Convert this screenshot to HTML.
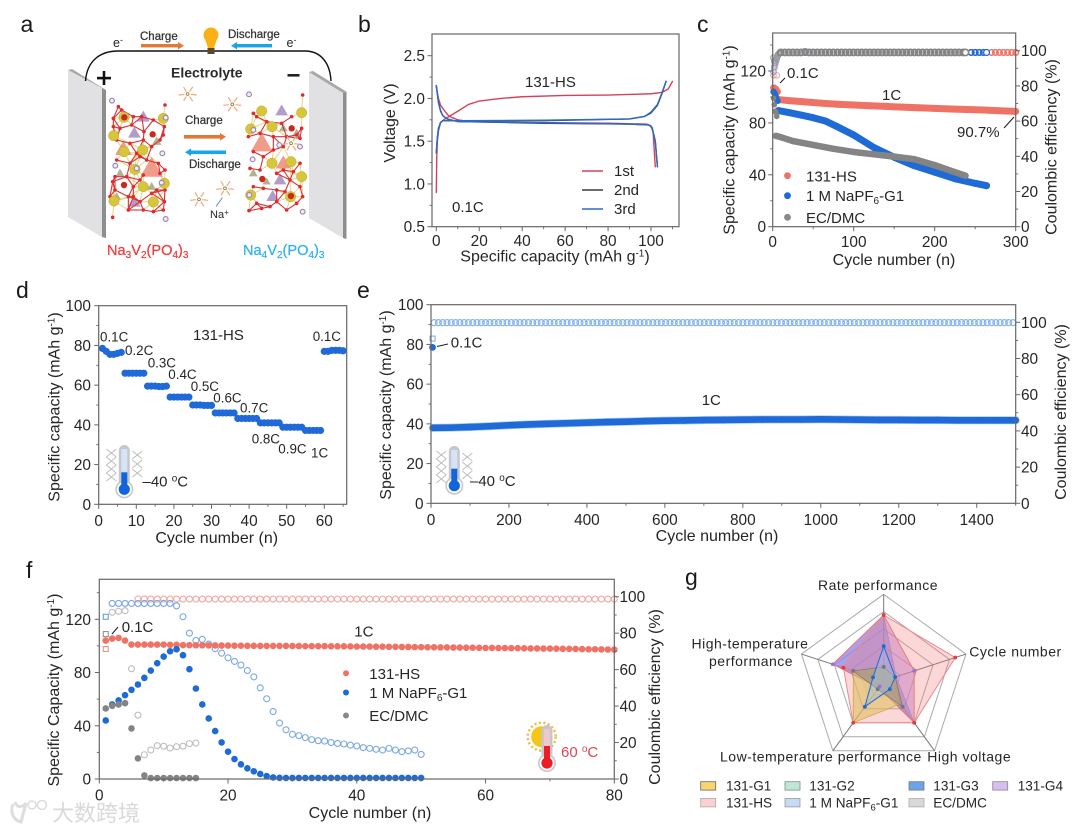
<!DOCTYPE html>
<html lang="en">
<head>
<meta charset="utf-8">
<title>Battery electrolyte performance figure</title>
<style>
html,body{margin:0;padding:0;background:#fff;}
#figure{display:block;width:1080px;height:832px;filter:blur(0.35px);}
text{font-family:"Liberation Sans","Noto Sans CJK SC",sans-serif;fill:#262626;}
.tick{font-size:15.4px;}
.title{font-size:16px;}
.letter{font-size:23px;fill:#1a1a1a;}
.note{font-size:15px;}
.rate{font-size:13.4px;}
.bold{font-size:11.5px;fill:#333;stroke:#333;stroke-width:.25px;}
.radar{font-size:14px;letter-spacing:.5px;}
.swatch-label{font-size:13.6px;}
</style>
</head>
<body>
<svg id="figure" xmlns="http://www.w3.org/2000/svg" width="1080" height="832" viewBox="0 0 1080 832">
<rect width="1080" height="832" fill="#fff"/>

<!-- Panel a -->
<g id="panel-a">
  <text class="letter" x="20.5" y="32">a</text>
  <polygon points="68,70 102,88 102,237 68,217" fill="#e1e1e3"/>
  <polygon points="68,70 72,69 106,90 102,88" fill="#a8a8a8"/>
  <polygon points="102,88 106,90 106,238 102,237" fill="#8e8e8e"/>
  <polygon points="309,72 343,93 343,238 309,218" fill="#e1e1e3"/>
  <polygon points="309,72 313,71 347,92 343,93" fill="#a8a8a8"/>
  <polygon points="343,93 346.5,92 346.5,239 343,238" fill="#8e8e8e"/>
  <path d="M85.5 81 C87 61,100 51,118 51 L305 51 C320 51,330 62,331 81" fill="none" stroke="#111" stroke-width="1.4"/>
  <circle cx="211" cy="35" r="7.5" fill="#fbb116"/>
  <polygon points="205,39 217,39 214,48 208,48" fill="#fbb116"/>
  <rect x="207.5" y="48" width="7" height="6" fill="#5a4a2a"/>
  <text x="113" y="47" font-size="12.5">e<tspan dy="-4" font-size="9">-</tspan></text>
  <text x="286.5" y="47" font-size="12.5">e<tspan dy="-4" font-size="9">-</tspan></text>
  <text class="bold" x="140" y="40">Charge</text>
  <text class="bold" x="228" y="38">Discharge</text>
  <rect x="141" y="44" width="38" height="3.4" fill="#e27a35"/>
  <polygon points="178,42 184,45.7 178,49.4" fill="#e27a35"/>
  <rect x="236" y="44" width="36" height="3.4" fill="#19a5ea"/>
  <polygon points="237,42 231,45.7 237,49.4" fill="#19a5ea"/>
  <text x="171" y="77.5" font-size="14" font-weight="bold" style="fill:#2a2a2a">Electrolyte</text>
  <rect x="97" y="76.8" width="14" height="2.6" fill="#111"/>
  <rect x="102.7" y="71" width="2.6" height="14" fill="#111"/>
  <rect x="287.5" y="74" width="12" height="2.6" fill="#222"/>
  <text class="bold" x="185" y="124">Charge</text>
  <text class="bold" x="189" y="168">Discharge</text>
  <rect x="184" y="135" width="37" height="3.6" fill="#e27a35"/>
  <polygon points="220,133 226,136.8 220,140.6" fill="#e27a35"/>
  <rect x="190" y="150.5" width="36" height="3.6" fill="#19a5ea"/>
  <polygon points="191,148.5 185,152.3 191,156" fill="#19a5ea"/>
  <line x1="216" y1="206.5" x2="222.5" y2="197.5" stroke="#4a78b8" stroke-width="0.8"/>
  <text x="210" y="218" font-size="11">Na<tspan dy="-3" font-size="8">+</tspan></text>
  <text x="107" y="255" font-size="14.6" style="fill:#ee3b3f;stroke:#ee3b3f;stroke-width:.25px">Na<tspan dy="3" font-size="10">3</tspan><tspan dy="-3">V</tspan><tspan dy="3" font-size="10">2</tspan><tspan dy="-3">(PO</tspan><tspan dy="3" font-size="10">4</tspan><tspan dy="-3">)</tspan><tspan dy="3" font-size="10">3</tspan></text>
  <text x="243" y="255" font-size="14.6" style="fill:#2eb2ea;stroke:#2eb2ea;stroke-width:.25px">Na<tspan dy="3" font-size="10">4</tspan><tspan dy="-3">V</tspan><tspan dy="3" font-size="10">2</tspan><tspan dy="-3">(PO</tspan><tspan dy="3" font-size="10">4</tspan><tspan dy="-3">)</tspan><tspan dy="3" font-size="10">3</tspan></text>
  <g id="crystal-layer"></g>
</g>

<!-- Panel b -->
<g id="panel-b">
  <text class="letter" x="358" y="32">b</text>
  <text class="title" transform="translate(395,123) rotate(-90)" text-anchor="middle">Voltage (V)</text>
  <text class="title" x="555" y="261.5" text-anchor="middle">Specific capacity (mAh g<tspan dy="-5" font-size="10">-1</tspan><tspan dy="5">)</tspan></text>
  <text class="note" x="525" y="87">131-HS</text>
  <text class="note" x="452" y="212">0.1C</text>
  <text class="note" x="614" y="176">1st</text>
  <text class="note" x="614" y="195">2nd</text>
  <text class="note" x="614" y="214">3rd</text>
  <line x1="582" y1="171" x2="603" y2="171" stroke="#d4425a" stroke-width="1.4"/>
  <line x1="582" y1="190" x2="603" y2="190" stroke="#3a3a3a" stroke-width="1.4"/>
  <line x1="582" y1="209" x2="603" y2="209" stroke="#2a6cc8" stroke-width="1.4"/>
</g>

<!-- Panel c -->
<g id="panel-c">
  <text class="letter" x="697" y="32">c</text>
  <text class="title" transform="translate(734.5,140) rotate(-90)" text-anchor="middle">Specific capacity (mAh g<tspan dy="-5" font-size="10">-1</tspan><tspan dy="5">)</tspan></text>
  <text class="title" transform="translate(1056.5,147) rotate(-90)" text-anchor="middle">Coulombic efficiency (%)</text>
  <text class="title" x="894" y="265" text-anchor="middle">Cycle number (n)</text>
  <text class="note" x="787" y="78">0.1C</text>
  <text class="note" x="882" y="100">1C</text>
  <text class="note" x="957" y="137">90.7%</text>
  <line x1="780" y1="83" x2="785" y2="78" stroke="#222" stroke-width="1.1"/>
  <line x1="1004" y1="128" x2="1014" y2="117" stroke="#222" stroke-width="1.1"/>
  <text class="note" x="806" y="181.5">131-HS</text>
  <text class="note" x="806" y="201">1 M NaPF<tspan dy="3" font-size="10">6</tspan><tspan dy="-3">-G1</tspan></text>
  <text class="note" x="806" y="223">EC/DMC</text>
  <circle cx="787.5" cy="175.7" r="3.4" fill="#ee7366"/>
  <circle cx="787.5" cy="195.7" r="3.4" fill="#1e6bd6"/>
  <circle cx="787.5" cy="217.3" r="3.4" fill="#888"/>
</g>

<!-- Panel d -->
<g id="panel-d">
  <text class="letter" x="16" y="298">d</text>
  <text class="title" transform="translate(59.5,407) rotate(-90)" text-anchor="middle">Specific capacity (mAh g<tspan dy="-5" font-size="10">-1</tspan><tspan dy="5">)</tspan></text>
  <text class="title" x="216.7" y="543" text-anchor="middle">Cycle number (n)</text>
  <text class="note" x="193" y="340">131-HS</text>
  <text class="rate" x="100" y="341.7">0.1C</text>
  <text class="rate" x="125" y="355">0.2C</text>
  <text class="rate" x="147.7" y="367.7">0.3C</text>
  <text class="rate" x="168.3" y="379">0.4C</text>
  <text class="rate" x="190.7" y="391">0.5C</text>
  <text class="rate" x="213.3" y="402.7">0.6C</text>
  <text class="rate" x="240" y="412.3">0.7C</text>
  <text class="rate" x="251.7" y="443.3">0.8C</text>
  <text class="rate" x="278.3" y="453.3">0.9C</text>
  <text class="rate" x="311" y="457.3">1C</text>
  <text class="rate" x="312.7" y="341">0.1C</text>
  <text class="note" x="142.5" y="486.7">–40 <tspan dy="-5" font-size="10">o</tspan><tspan dy="5">C</tspan></text>
</g>

<!-- Panel e -->
<g id="panel-e">
  <text class="letter" x="357" y="298">e</text>
  <text class="title" transform="translate(391,405) rotate(-90)" text-anchor="middle">Specific capacity (mAh g<tspan dy="-5" font-size="10">-1</tspan><tspan dy="5">)</tspan></text>
  <text class="title" transform="translate(1066,412) rotate(-90)" text-anchor="middle">Coulombic efficiency (%)</text>
  <text class="title" x="717" y="541" text-anchor="middle">Cycle number (n)</text>
  <text class="note" x="450.7" y="347.7">0.1C</text>
  <text class="note" x="701.7" y="405">1C</text>
  <line x1="437" y1="346.5" x2="448" y2="344" stroke="#222" stroke-width="1.1"/>
  <text class="note" x="470" y="486">–40 <tspan dy="-5" font-size="10">o</tspan><tspan dy="5">C</tspan></text>
</g>

<!-- Panel f -->
<g id="panel-f">
  <text class="letter" x="26" y="578">f</text>
  <text class="title" transform="translate(59,690) rotate(-90)" text-anchor="middle">Specific Capacity (mAh g<tspan dy="-5" font-size="10">-1</tspan><tspan dy="5">)</tspan></text>
  <text class="title" transform="translate(660,697) rotate(-90)" text-anchor="middle">Coulombic efficiency (%)</text>
  <text class="title" x="370" y="818" text-anchor="middle">Cycle number (n)</text>
  <text class="note" x="121.7" y="632">0.1C</text>
  <text class="note" x="354.3" y="636.7">1C</text>
  <line x1="112" y1="634" x2="118" y2="627" stroke="#222" stroke-width="1.1"/>
  <text class="note" x="369.3" y="679">131-HS</text>
  <text class="note" x="369.3" y="698">1 M NaPF<tspan dy="3" font-size="10">6</tspan><tspan dy="-3">-G1</tspan></text>
  <text class="note" x="369.3" y="721">EC/DMC</text>
  <circle cx="346" cy="673.3" r="3" fill="#ee7366"/>
  <circle cx="346" cy="692.5" r="3" fill="#1e6bd6"/>
  <circle cx="346" cy="715.5" r="3" fill="#888"/>
  <text class="note" x="561" y="757" style="fill:#dc4552">60 <tspan dy="-5" font-size="10">o</tspan><tspan dy="5">C</tspan></text>
</g>

<!-- Panel g -->
<g id="panel-g">
  <text class="letter" x="685" y="585">g</text>
  <text class="radar" x="818" y="590">Rate performance</text>
  <text class="radar" x="969.3" y="656.5">Cycle number</text>
  <text class="radar" x="691.5" y="648.3">High-temperature</text>
  <text class="radar" x="709" y="666">performance</text>
  <text class="radar" x="720" y="761.5">Low-temperature performance</text>
  <text class="radar" x="927.3" y="761.5">High voltage</text>
  <g id="radar-layer"></g>
  <rect x="700.7" y="781.7" width="15" height="8.4" fill="#f9d56e" stroke="#666" stroke-width=".8"/>
  <rect x="785" y="781.7" width="15" height="8.4" fill="#bfe8d4" stroke="#888" stroke-width=".8"/>
  <rect x="909" y="781.7" width="15" height="8.4" fill="#6aa5ea" stroke="#777" stroke-width=".8"/>
  <rect x="992.7" y="781.7" width="15" height="8.4" fill="#d8bdf0" stroke="#888" stroke-width=".8"/>
  <rect x="700.7" y="798.5" width="15" height="8.4" fill="#fbd0d0" stroke="#aaa" stroke-width=".8"/>
  <rect x="785" y="798.5" width="15" height="8.4" fill="#c6dcf6" stroke="#999" stroke-width=".8"/>
  <rect x="909" y="798.5" width="15" height="8.4" fill="#d9d9d9" stroke="#aaa" stroke-width=".8"/>
  <text class="swatch-label" x="726" y="790.7">131-G1</text>
  <text class="swatch-label" x="809.3" y="790.7">131-G2</text>
  <text class="swatch-label" x="933.3" y="790.7">131-G3</text>
  <text class="swatch-label" x="1017.7" y="790.7">131-G4</text>
  <text class="swatch-label" x="726" y="807.3">131-HS</text>
  <text class="swatch-label" x="809.3" y="807.3">1 M NaPF<tspan dy="3" font-size="9.5">6</tspan><tspan dy="-3">-G1</tspan></text>
  <text class="swatch-label" x="933.3" y="807.3">EC/DMC</text>
</g>

<!-- Watermark -->
<g opacity="0.95">
  <path d="M13 804 C10 812,13 820,21 822 L26 803 C22 808,17 808,15 802" fill="none" stroke="#dcdcdc" stroke-width="3"/>
  <circle cx="32" cy="805" r="4" fill="none" stroke="#dcdcdc" stroke-width="1.6"/>
  <circle cx="42" cy="805" r="4.5" fill="none" stroke="#dcdcdc" stroke-width="1.6"/>
  <text x="52" y="821" font-size="22" style="fill:#d8d8d8;font-family:'Noto Sans CJK SC','WenQuanYi Zen Hei',sans-serif">大数跨境</text>
</g>
</svg>

<script>
/* ---------- Panel b data: capacity (mAh/g) and voltage (V) ---------- */
const bCharge1Cap = [0,0.2,0.5,1,2,4,6,10,15,20,30,40,60,80,100,105,108,110];
const bCharge1V = [0.9,1.3,1.5,1.62,1.72,1.76,1.79,1.85,1.93,1.97,2.0,2.02,2.035,2.04,2.055,2.07,2.11,2.2];
const bDischarge1Cap = [0,1,2,4,6,10,15,40,80,98,100,101,102];
const bDischarge1V = [2.13,2.0,1.92,1.85,1.79,1.75,1.73,1.72,1.71,1.70,1.68,1.6,1.2];
const bCharge2Cap = [0,0.5,1,2,3,10,50,90,97,100,103,105,107];
const bCharge2V = [1.37,1.55,1.65,1.72,1.74,1.74,1.74,1.76,1.79,1.83,1.92,2.05,2.2];
const bDischarge2Cap = [0,0.5,1,2,3,5,10,50,90,99,100.5,102,103];
const bDischarge2V = [2.15,2.05,1.95,1.85,1.8,1.76,1.73,1.71,1.70,1.69,1.66,1.5,1.2];
const bCharge3V = [1.36,1.54,1.64,1.72,1.74,1.74,1.745,1.76,1.79,1.84,1.93,2.06,2.2];
const bDischarge3V = [2.15,2.06,1.96,1.86,1.8,1.76,1.73,1.715,1.70,1.69,1.66,1.5,1.2];
const bXTicks = [0,20,40,60,80,100];
const bXMinor = [10,30,50,70,90,110];
const bYTicks = [0.5,1.0,1.5,2.0,2.5];
const bYLabels = ["0.5","1.0","1.5","2.0","2.5"];
const bYMinor = [0.75,1.25,1.75,2.25];

/* ---------- Panel c data ---------- */
const cHsInitCycles = [1,2,3,4,5,6];
const cHsInitCap = [107,107,106.5,106,105,104];
const cHsCycles = [7,20,40,60,80,100,120,140,160,180,200,220,240,260,280,300];
const cHsCap = [98,97.2,96.2,95.2,94.4,93.8,93.2,92.7,92.2,91.7,91.2,90.7,90.3,89.9,89.4,88.9];
const cBlueInitCycles = [1,2,3,4,5,6];
const cBlueInitCap = [104,103,102,100,98,97];
const cBlueCycles = [7,20,35,50,65,80,100,125,150,175,200,225,250,264];
const cBlueCap = [89.5,88,86,84,81.5,77,70.7,61,53.5,47,42,37,33.4,31.6];
const cGreyInitCycles = [1,2,3,4,5];
const cGreyInitCap = [99,94,89,88,85];
const cGreyCycles = [4,10,25,50,75,100,125,150,175,200,225,238];
const cGreyCap = [70,69,66,63,60,57.6,55.8,54,52,47.5,42,39.3];
const cCeCycles = [10,15,20,25,30,35,40,45,50,55,60,65,70,75,80,85,90,95,100,105,110,115,120,125,130,135,140,145,150,155,160,165,170,175,180,185,190,195,200,205,210,215,220,225,230,235,238,245,250,255,260,264,270,275,280,285,290,295,300];
const cHsCe = [99,99,99,99,99,99,99,99,99,99,99,99,99,99,99,99,99,99,99,99,99,99,99,99,99,99,99,99,99,99,99,99,99,99,99,99,99,99,99,99,99,99,99,99,99,99,99,99,99,99,99,99,99,99,99,99,99,99,99];
const cBlueCe = [99,99,99,99,99,99,99,99,99,99,99,99,99,99,99,99,99,99,99,99,99,99,99,99,99,99,99,99,99,99,99,99,99,99,99,99,99,99,99,99,99,99,99,99,99,99,99,99,99,99,99,99];
const cGreyCe = [99,99,99,99,99,99,99.3,99,99,99,99,99,99,99,99,99,99,99,99,99,99,99,99,99,99,99,99,99,99,99,99,99,99,99,99,99,99,99,99,99,99,99,99,99,99,99,99];
const cInitCeCycles = [1,2,3,4,5,6,7,8];
const cInitBlueCe = [88,91,93,94,95.5,97,98,98.5];
const cInitHsCe = [86,90,92,94,86,97,98,98.5];
const cInitGreyCe = [96,94,93,95,96,97,98,98.5];
const cXTicks = [0,100,200,300];
const cXMinor = [50,150,250];
const cYTicks = [0,40,80,120];
const cYMinor = [20,60,100,140];
const cRTicks = [0,20,40,60,80,100];
const cRMinor = [10,30,50,70,90];

/* ---------- Panel d data ---------- */
const dCycles = [1,2,3,4,5,6,7,8,9,10,11,12,13,14,15,16,17,18,19,20,21,22,23,24,25,26,27,28,29,30,31,32,33,34,35,36,37,38,39,40,41,42,43,44,45,46,47,48,49,50,51,52,53,54,55,56,57,58,59,60,61,62,63,64,65];
const dCapacity = [78.5,77,75.5,75.5,76,76.5,66,66,66,66,66,66,59.5,59.5,59.5,59.3,59.3,59.5,54,54,54,54,54,54,50,50,50,49.8,49.8,49.8,46,46,46,46,46,46,43.2,43.2,43.2,43.2,43.2,43.2,41,41,41,41,41,41,38.8,38.8,38.8,38.8,38.8,38.8,37.2,37.2,37.2,37.2,37.2,77,77,77.5,77.5,77.5,77.3];
const dXTicks = [0,10,20,30,40,50,60];
const dXMinor = [5,15,25,35,45,55,65];
const dYTicks = [0,20,40,60,80,100];
const dYMinor = [10,30,50,70,90];

/* ---------- Panel e data ---------- */
const eCycles = [8,19,30,41,52,63,74,85,96,107,118,129,140,151,162,173,184,195,206,217,228,239,250,261,272,283,294,305,316,327,338,349,360,371,382,393,404,415,426,437,448,459,470,481,492,503,514,525,536,547,558,569,580,591,602,613,624,635,646,657,668,679,690,701,712,723,734,745,756,767,778,789,800,811,822,833,844,855,866,877,888,899,910,921,932,943,954,965,976,987,998,1009,1020,1031,1042,1053,1064,1075,1086,1097,1108,1119,1130,1141,1152,1163,1174,1185,1196,1207,1218,1229,1240,1251,1262,1273,1284,1295,1306,1317,1328,1339,1350,1361,1372,1383,1394,1405,1416,1427,1438,1449,1460,1471,1482,1493];
const eEfficiency = [99.8,99.8,99.8,99.8,99.8,99.8,99.8,99.8,99.8,99.8,99.8,99.8,99.8,99.8,99.8,99.8,99.8,99.8,99.8,99.8,99.8,99.8,99.8,99.8,99.8,99.8,99.8,99.8,99.8,99.8,99.8,99.8,99.8,99.8,99.8,99.8,99.8,99.8,99.8,99.8,99.8,99.8,99.8,99.8,99.8,99.8,99.8,99.8,99.8,99.8,99.8,99.8,99.8,99.8,99.8,99.8,99.8,99.8,99.8,99.8,99.8,99.8,99.8,99.8,99.8,99.8,99.8,99.8,99.8,99.8,99.8,99.8,99.8,99.8,99.8,99.8,99.8,99.8,99.8,99.8,99.8,99.8,99.8,99.8,99.8,99.8,99.8,99.8,99.8,99.8,99.8,99.8,99.8,99.8,99.8,99.8,99.8,99.8,99.8,99.8,99.8,99.8,99.8,99.8,99.8,99.8,99.8,99.8,99.8,99.8,99.8,99.8,99.8,99.8,99.8,99.8,99.8,99.8,99.8,99.8,99.8,99.8,99.8,99.8,99.8,99.8,99.8,99.8,99.8,99.8,99.8,99.8,99.8,99.8,99.8,99.8];
const eCapCycles = [5,50,100,150,200,250,300,350,400,450,500,550,600,650,700,750,800,850,900,950,1000,1050,1100,1150,1200,1250,1300,1350,1400,1450,1500];
const eCapacity = [38,38.1,38.4,38.8,39.3,39.7,40,40.3,40.6,40.9,41.1,41.4,41.6,41.7,41.9,42,42.1,42.2,42.2,42.2,42.3,42.2,42.1,42,42,41.9,41.9,41.8,41.8,41.8,41.8];
const eInitCycle = [4];
const eInitCapacity = [78.5];
const eInitEfficiency = [91];
const eXTicks = [0,200,400,600,800,1000,1200,1400];
const eXMinor = [100,300,500,700,900,1100,1300,1500];
const eYTicks = [0,20,40,60,80,100];
const eYMinor = [10,30,50,70,90];
const eRTicks = [0,20,40,60,80,100];
const eRMinor = [10,30,50,70,90];

/* ---------- Panel f data (index 0 = cycle 1) ---------- */
const fHsCycles = [1,2,3,4,5,6,7,8,9,10,11,12,13,14,15,16,17,18,19,20,21,22,23,24,25,26,27,28,29,30,31,32,33,34,35,36,37,38,39,40,41,42,43,44,45,46,47,48,49,50,51,52,53,54,55,56,57,58,59,60,61,62,63,64,65,66,67,68,69,70,71,72,73,74,75,76,77,78,79,80];
const fHsCap = [104,105.5,106,104,101,101,101,101,101,101,100.8,100.8,100.6,100.6,100.5,100.5,100.4,100.4,100.3,100.3,100.2,100.2,100.1,100.1,100,100,100,100,100,99.9,99.9,99.8,99.8,99.8,99.8,99.7,99.7,99.7,99.6,99.5,99.5,99.5,99.4,99.4,99.3,99.3,99.2,99.2,99.1,99.1,99,99,98.9,98.9,98.8,98.8,98.7,98.7,98.6,98.5,98.5,98.4,98.4,98.3,98.3,98.2,98.1,98.1,98,98,97.9,97.8,97.8,97.7,97.6,97.5,97.5,97.4,97.3,97.2];
const fHsCe = [null,null,null,null,null,98.7,98.7,98.7,98.7,98.7,98.7,98.7,98.7,98.7,98.7,98.7,98.7,98.7,98.7,98.7,98.7,98.7,98.7,98.7,98.7,98.7,98.7,98.7,98.7,98.7,98.7,98.7,98.7,98.7,98.7,98.7,98.7,98.7,98.7,98.7,98.7,98.7,98.7,98.7,98.7,98.7,98.7,98.7,98.7,98.7,98.7,98.7,98.7,98.7,98.7,98.7,98.7,98.7,98.7,98.7,98.7,98.7,98.7,98.7,98.7,98.7,98.7,98.7,98.7,98.7,98.7,98.7,98.7,98.7,98.7,98.7,98.7,98.7,98.7,98.7];
const fBlueCap = [44,56,59,63,67,71,76,81.5,87,92,96,97.5,93,82.5,68,56,45.5,36,27.5,20.5,15,11,8,5.8,3.8,2.2,1.2,0.9,0.8,0.8,0.8,0.8,0.8,0.8,0.8,0.8,0.8,0.8,0.8,0.8,0.8,0.8,0.8,0.8,0.8,0.8,0.8,0.8,0.8,0.8];
const fBlueCe = [null,96.3,96.3,96.3,96.3,96.3,96.3,96.3,96.3,96.3,96.3,95,89,80,76,76.6,74,71.5,69,66.5,64.5,62.5,59.5,56,50,44,37,30.7,27,24.5,23.8,22.7,21.6,21,20.8,20,19.5,19.2,18.6,18.1,17.2,16.8,16.3,15.9,16.8,15.9,15,15.4,15.9,13.5];
const fGreyCap = [53,55,56,57,38,15.5,2.7,0.7,0.7,0.7,0.7,0.7,0.7,0.7,0.7];
const fGreyCe = [null,91.4,92,92.3,60.5,35,13.3,15.9,18.3,18,17,17.7,18,19.4,19.7];
const fFirstCycle = [1];
const fFirstHsCe = [71.3];
const fFirstBlueCe = [89];
const fFirstGreyCe = [79.5];
const fXTicks = [0,20,40,60,80];
const fXMinor = [10,30,50,70];
const fYTicks = [0,40,80,120];
const fYMinor = [20,60,100,140];
const fRTicks = [0,20,40,60,80,100];
const fRMinor = [10,30,50,70,90];

/* ---------- Panel g data: fraction of full radius per axis
   order: rate, cycle, high voltage, low temperature, high temperature ---------- */
const gG1 = [0.16,0.14,0.33,0.6,0.37];
const gG2 = [0.15,0.12,0.2,0.3,0.3];
const gG3 = [0.76,0.15,0.6,0.1,0.62];
const gG4 = [0.76,0.37,0.6,0.08,0.62];
const gHs = [0.76,0.87,0.6,0.6,0.49];
const gNapf = [0.4,0.14,0.12,0.37,0.13];
const gEc = [0.16,0.14,0.37,0.12,0.37];
const gRings = [0.2,0.4,0.6,0.8,1];

/* ---------- Helpers ---------- */
const SVGNS = 'http://www.w3.org/2000/svg';
function make(parent, tag, name, attrs) {
  const el = document.createElementNS(SVGNS, tag);
  
  
  for (const k in attrs) el.setAttribute(k, attrs[k]);
  parent.appendChild(el);
  return el;
}
function linear(d0, d1, r0, r1) { return v => r0 + (v - d0) * (r1 - r0) / (d1 - d0); }
const AXIS = '#666';
function frame(g, x0, y0, x1, y1) {
  make(g, 'rect', 'plot-frame', {x:x0, y:y0, width:x1-x0, height:y1-y0, fill:'none', stroke:AXIS, 'stroke-width':1.2});
}
function xAxis(g, sx, yBase, ticks, minor, labelY) {
  ticks.forEach(t => {
    make(g, 'line', 'x-tick', {x1:sx(t), x2:sx(t), y1:yBase, y2:yBase+4.5, stroke:AXIS, 'stroke-width':1});
    const lab = make(g, 'text', 'x-tick-label', {x:sx(t), y:labelY, 'text-anchor':'middle', class:'tick'});
    lab.textContent = String(t);
  });
  minor.forEach(t => make(g, 'line', 'x-minor-tick', {x1:sx(t), x2:sx(t), y1:yBase, y2:yBase+2.5, stroke:AXIS, 'stroke-width':0.9}));
}
function yAxis(g, sy, xBase, ticks, minor, labelX, labels) {
  ticks.forEach((t, i) => {
    make(g, 'line', 'y-tick', {x1:xBase, x2:xBase-4.5, y1:sy(t), y2:sy(t), stroke:AXIS, 'stroke-width':1});
    const lab = make(g, 'text', 'y-tick-label', {x:labelX, y:sy(t)+5.5, 'text-anchor':'end', class:'tick'});
    lab.textContent = labels ? labels[i] : String(t);
  });
  minor.forEach(t => make(g, 'line', 'y-minor-tick', {x1:xBase, x2:xBase-2.5, y1:sy(t), y2:sy(t), stroke:AXIS, 'stroke-width':0.9}));
}
function rAxis(g, sr, xBase, ticks, minor, labelX) {
  ticks.forEach(t => {
    make(g, 'line', 'right-tick', {x1:xBase, x2:xBase+4.5, y1:sr(t), y2:sr(t), stroke:AXIS, 'stroke-width':1});
    const lab = make(g, 'text', 'right-tick-label', {x:labelX, y:sr(t)+5.5, class:'tick'});
    lab.textContent = String(t);
  });
  minor.forEach(t => make(g, 'line', 'right-minor-tick', {x1:xBase, x2:xBase+2.5, y1:sr(t), y2:sr(t), stroke:AXIS, 'stroke-width':0.9}));
}
function line(g, xs, ys, sx, sy, stroke, width, name) {
  const pts = xs.map((x, i) => sx(x).toFixed(2) + ',' + sy(ys[i]).toFixed(2)).join(' ');
  make(g, 'polyline', name, {points:pts, fill:'none', stroke:stroke, 'stroke-width':width, 'stroke-linecap':'round', 'stroke-linejoin':'round'});
}
function dots(g, xs, ys, sx, sy, r, fill, name) {
  ys.forEach((y, i) => { if (y !== null) make(g, 'circle', name, {cx:sx(xs[i]), cy:sy(y), r:r, fill:fill}); });
}
function rings(g, xs, ys, sx, sy, r, stroke, name, sw) {
  ys.forEach((y, i) => { if (y !== null) make(g, 'circle', name, {cx:sx(xs[i]), cy:sy(y), r:r, fill:'none', stroke:stroke, 'stroke-width':sw||1.1}); });
}
function squares(g, xs, ys, sx, sy, s, stroke, name) {
  ys.forEach((y, i) => make(g, 'rect', name, {x:sx(xs[i])-s/2, y:sy(y)-s/2, width:s, height:s, fill:'none', stroke:stroke, 'stroke-width':1}));
}
function thermo(g, cx, bulbY, top, color, pale) {
  const t = make(g, 'g', 'thermometer-icon', {});
  make(t, 'rect', 'thermometer-tube', {x:cx-5.5, y:top, width:11, height:bulbY-top, rx:5.5, fill:'#c4c8ce'});
  make(t, 'circle', 'thermometer-bulb-shell', {cx:cx, cy:bulbY, r:9, fill:'#c4c8ce'});
  make(t, 'circle', 'thermometer-bulb-ring', {cx:cx, cy:bulbY, r:7.4, fill:'#fff'});
  make(t, 'rect', 'thermometer-scale', {x:cx-3, y:top+4, width:6, height:bulbY-top-14, fill:pale});
  make(t, 'rect', 'thermometer-liquid', {x:cx-3, y:bulbY-17, width:6, height:15, fill:color});
  make(t, 'circle', 'thermometer-bulb-liquid', {cx:cx, cy:bulbY, r:5.6, fill:color});
}
function snow(g, cx, top) {
  const s = make(g, 'g', 'snowflake-decoration', {fill:'none', stroke:'#bdbdbd', 'stroke-width':1});
  [[-13,4],[-13,12],[-13,20],[-13,28],[13,6],[13,15],[13,24]].forEach(p => {
    make(s, 'polyline', 'snowflake-arm', {points:(cx+p[0]-5)+','+(top+p[1]-4)+' '+(cx+p[0])+','+(top+p[1])+' '+(cx+p[0]+5)+','+(top+p[1]-4)});
    make(s, 'polyline', 'snowflake-arm', {points:(cx+p[0]-5)+','+(top+p[1]+4)+' '+(cx+p[0])+','+(top+p[1])+' '+(cx+p[0]+5)+','+(top+p[1]+4)});
  });
}

/* ---------- Panel a: crystal illustration ---------- */
const leftRed = [[338,652],[338,545],[330,590],[385,630],[420,605],[430,630],[460,635],[493,605],[495,315],[493,380],[460,360],[425,350],[400,350],[340,355],[355,320],[365,330],[395,375],[360,385],[340,380],[432,395],[430,420],[480,420],[490,405],[455,440],[420,470],[440,480],[475,490],[480,520],[495,510],[430,525],[420,540],[380,530],[345,530],[350,420],[390,430],[350,480],[390,490],[400,560],[400,590],[345,570],[470,570],[495,570],[490,630],[455,580],[385,590],[410,460]];
const leftYellow = [[341,407],[372,455],[428,450],[490,355],[405,508],[430,560],[493,550],[342,603],[460,606],[372,352]];
const leftPurple = [[336,302],[497,353],[487,460],[346,497],[410,505],[485,548],[497,657]];
const leftVanadium = [[373,352],[458,403],[372,555]];
const leftPurpleTri = [[430,352,20],[403,400,20],[403,607,20]];
const leftSalmonTri = [[455,507,36],[370,448,26]];
const leftOliveTri = [[470,425,15],[455,560,14],[360,520,14],[350,590,13]];
const rightRed = [[747,632],[785,625],[830,605],[908,590],[908,285],[875,350],[905,385],[890,405],[845,370],[800,365],[770,350],[760,340],[745,410],[780,400],[820,410],[860,410],[900,415],[820,450],[850,440],[760,455],[790,470],[850,510],[900,490],[880,515],[750,505],[780,510],[830,520],[870,540],[900,560],[760,560],[790,565],[830,570],[855,575],[890,610],[860,630],[770,610],[810,620]];
const rightYellow = [[785,333],[905,338],[752,387],[816,380],[816,490],[873,485],[905,530],[752,585],[872,590]];
const rightPurple = [[747,283],[760,390],[900,440],[758,478],[838,435],[748,585],[908,635]];
const rightVanadium = [[875,385],[787,537],[873,588]];
const rightPurpleTri = [[845,333,20],[840,540,20],[818,590,20]];
const rightSalmonTri = [[785,432,34],[850,490,24]];
const rightOliveTri = [[760,520,14],[850,385,14],[800,545,13],[890,400,14]];
const naIons = [[563,282],[697,313],[675,565],[597,598],[873,430]];

function crystal(g, red, yellow, purple, vanadium, pTri, sTri, oTri) {
  const k = 1/3;
  const tri = (c, fill, op, nm) => {
    const r = c[2]*k, x = c[0]*k, y = c[1]*k;
    make(g, 'polygon', nm, {points:x+','+(y-r)+' '+(x+r*.95)+','+(y+r*.65)+' '+(x-r*.95)+','+(y+r*.65), fill:fill, opacity:op});
  };
  yellow.forEach(a => red.forEach(b => {
    const d = Math.hypot(a[0]-b[0], a[1]-b[1]);
    if (d < 62) make(g, 'line', 'sodium-oxygen-bond', {x1:a[0]*k, y1:a[1]*k, x2:b[0]*k, y2:b[1]*k, stroke:'#e6d57c', 'stroke-width':1});
  }));
  sTri.forEach(c => tri(c, '#ef8b76', .85, 'vanadium-octahedron'));
  pTri.forEach(c => tri(c, '#a58cc0', .85, 'phosphate-tetrahedron'));
  oTri.forEach(c => tri(c, '#a8a27a', .85, 'phosphate-tetrahedron-side'));
  red.forEach((a, i) => red.forEach((b, j) => {
    if (j > i && Math.hypot(a[0]-b[0], a[1]-b[1]) < 46) make(g, 'line', 'oxygen-bond', {x1:a[0]*k, y1:a[1]*k, x2:b[0]*k, y2:b[1]*k, stroke:'#d8323a', 'stroke-width':1.1});
  }));
  red.forEach(a => make(g, 'circle', 'oxygen-atom', {cx:a[0]*k, cy:a[1]*k, r:1.8, fill:'#e02a30'}));
  yellow.forEach(a => make(g, 'circle', 'sodium-site-atom', {cx:a[0]*k, cy:a[1]*k, r:5.2, fill:'#d8c63a', stroke:'#a89a30', 'stroke-width':.4}));
  vanadium.forEach(a => make(g, 'circle', 'vanadium-atom', {cx:a[0]*k, cy:a[1]*k, r:3.2, fill:'#c82a20'}));
  purple.forEach(a => make(g, 'circle', 'purple-atom', {cx:a[0]*k, cy:a[1]*k, r:2.4, fill:'#eee', stroke:'#9a7fb0', 'stroke-width':1.1}));
}
const crystalLayer = document.getElementById('crystal-layer');
crystal(crystalLayer, leftRed, leftYellow, leftPurple, leftVanadium, leftPurpleTri, leftSalmonTri, leftOliveTri);
crystal(crystalLayer, rightRed, rightYellow, rightPurple, rightVanadium, rightPurpleTri, rightSalmonTri, rightOliveTri);
naIons.forEach(p => {
  const x = p[0]/3, y = p[1]/3;
  [[-9,1],[9,1],[-4,-7],[5,-7],[-4,7],[5,7]].forEach(o => make(crystalLayer, 'line', 'solvation-arm', {x1:x+o[0]*.35, y1:y+o[1]*.35, x2:x+o[0], y2:y+o[1], stroke:'#f0a878', 'stroke-width':1.2}));
  make(crystalLayer, 'circle', 'sodium-ion', {cx:x, cy:y, r:1.4, fill:'#fff', stroke:'#7a7a30', 'stroke-width':.8});
});

/* ---------- Panel b ---------- */
(function () {
  const g = document.getElementById('panel-b');
  const sx = linear(0, 100, 436.3, 651);
  const sy = linear(0.5, 2.5, 226.7, 55.7);
  line(g, bCharge1Cap, bCharge1V, sx, sy, '#d4425a', 1.4, 'curve-1st-charge');
  line(g, bDischarge1Cap, bDischarge1V, sx, sy, '#d4425a', 1.4, 'curve-1st-discharge');
  line(g, bCharge2Cap, bCharge2V, sx, sy, '#3a3a3a', 1.4, 'curve-2nd-charge');
  line(g, bDischarge2Cap, bDischarge2V, sx, sy, '#3a3a3a', 1.4, 'curve-2nd-discharge');
  line(g, bCharge2Cap, bCharge3V, sx, sy, '#2a6cc8', 1.4, 'curve-3rd-charge');
  line(g, bDischarge2Cap, bDischarge3V, sx, sy, '#2a6cc8', 1.4, 'curve-3rd-discharge');
  frame(g, 432, 34, 679, 226.7);
  xAxis(g, sx, 226.7, bXTicks, bXMinor, 246);
  yAxis(g, sy, 432, bYTicks, bYMinor, 425, bYLabels);
})();

/* ---------- Panel c ---------- */
(function () {
  const g = document.getElementById('panel-c');
  const sx = linear(0, 300, 772.7, 1015.7);
  const sy = linear(0, 120, 226.7, 71);
  const sr = linear(0, 100, 226.7, 50.7);
  rings(g, cInitCeCycles, cInitHsCe, sx, sr, 2.8, '#f0a9a2', 'efficiency-131-hs-initial');
  rings(g, cInitCeCycles, cInitBlueCe, sx, sr, 2.8, '#7ba7e4', 'efficiency-napf6-initial');
  rings(g, cInitCeCycles, cInitGreyCe, sx, sr, 2.8, '#9a9a9a', 'efficiency-ec-dmc-initial');
  rings(g, cCeCycles, cHsCe, sx, sr, 2.8, '#ee7366', 'efficiency-131-hs', 1.5);
  rings(g, cCeCycles, cBlueCe, sx, sr, 2.8, '#1e6bd6', 'efficiency-napf6', 1.5);
  rings(g, cCeCycles, cGreyCe, sx, sr, 3, '#848484', 'efficiency-ec-dmc', 1.9);
  dots(g, [238,264], [99,99], sx, sr, 2.3, '#fff', 'efficiency-end-marker');
  line(g, cHsCycles, cHsCap, sx, sy, '#ee7366', 7, 'capacity-131-hs-band');
  dots(g, cHsCycles, cHsCap, sx, sy, 3.5, '#ee7366', 'capacity-131-hs');
  line(g, cBlueCycles, cBlueCap, sx, sy, '#1e6bd6', 7, 'capacity-napf6-band');
  dots(g, cBlueCycles, cBlueCap, sx, sy, 3.5, '#1e6bd6', 'capacity-napf6');
  line(g, cGreyCycles, cGreyCap, sx, sy, '#848484', 6.5, 'capacity-ec-dmc-band');
  dots(g, cGreyCycles, cGreyCap, sx, sy, 3.2, '#848484', 'capacity-ec-dmc');
  dots(g, cHsInitCycles, cHsInitCap, sx, sy, 3.4, '#ee7366', 'capacity-131-hs-initial');
  dots(g, cBlueInitCycles, cBlueInitCap, sx, sy, 3.2, '#1e6bd6', 'capacity-napf6-initial');
  dots(g, cGreyInitCycles, cGreyInitCap, sx, sy, 2.8, '#848484', 'capacity-ec-dmc-initial');
  frame(g, 772.7, 33, 1015.7, 226.7);
  xAxis(g, sx, 226.7, cXTicks, cXMinor, 247);
  yAxis(g, sy, 772.7, cYTicks, cYMinor, 766);
  rAxis(g, sr, 1015.7, cRTicks, cRMinor, 1021);
})();

/* ---------- Panel d ---------- */
(function () {
  const g = document.getElementById('panel-d');
  const sx = linear(0, 60, 98.7, 324.3);
  const sy = linear(0, 100, 504.3, 305.7);
  dots(g, dCycles, dCapacity, sx, sy, 3.6, '#1f6ad8', 'capacity-point');
  frame(g, 98.7, 305.7, 346.7, 504.3);
  xAxis(g, sx, 504.3, dXTicks, dXMinor, 526);
  yAxis(g, sy, 98.7, dYTicks, dYMinor, 91);
  snow(g, 124.3, 449);
  thermo(g, 124.3, 489.3, 445, '#1264dc', '#d7e3f6');
})();

/* ---------- Panel e ---------- */
(function () {
  const g = document.getElementById('panel-e');
  const sx = linear(0, 1500, 431, 1015.7);
  const sy = linear(0, 100, 503.3, 304.7);
  const sr = linear(0, 100, 503.3, 322.3);
  rings(g, eCycles, eEfficiency, sx, sr, 3, '#86b4ea', 'efficiency-point', 1.2);
  squares(g, eInitCycle, eInitEfficiency, sx, sr, 5, '#7ba7e4', 'efficiency-first-cycle');
  dots(g, eInitCycle, eInitCapacity, sx, sy, 3.4, '#1f6ad8', 'capacity-0.1c');
  line(g, eCapCycles, eCapacity, sx, sy, '#a9cdf2', 8, 'capacity-band-halo');
  line(g, eCapCycles, eCapacity, sx, sy, '#1f6ad8', 6.6, 'capacity-band');
  dots(g, eCapCycles, eCapacity, sx, sy, 3.3, '#1f6ad8', 'capacity-point');
  frame(g, 431, 304.7, 1015.7, 503.3);
  xAxis(g, sx, 503.3, eXTicks, eXMinor, 525);
  yAxis(g, sy, 431, eYTicks, eYMinor, 423.5);
  rAxis(g, sr, 1015.7, eRTicks, eRMinor, 1021);
  snow(g, 454.3, 451);
  thermo(g, 454.3, 485.7, 446, '#1264dc', '#d7e3f6');
})();

/* ---------- Panel f ---------- */
(function () {
  const g = document.getElementById('panel-f');
  const sx = linear(0, 80, 99.3, 614.3);
  const sy = linear(0, 120, 779, 619.3);
  const sr = linear(0, 100, 779, 596.7);
  rings(g, fHsCycles, fHsCe, sx, sr, 3, '#f0a9a2', 'efficiency-131-hs');
  rings(g, fHsCycles, fGreyCe, sx, sr, 3, '#bdbdbd', 'efficiency-ec-dmc');
  rings(g, fHsCycles, fBlueCe, sx, sr, 3, '#7ba7e4', 'efficiency-napf6');
  squares(g, fFirstCycle, fFirstHsCe, sx, sr, 5, '#ee8a80', 'efficiency-131-hs-first');
  squares(g, fFirstCycle, fFirstBlueCe, sx, sr, 5, '#5f93dc', 'efficiency-napf6-first');
  squares(g, fFirstCycle, fFirstGreyCe, sx, sr, 5, '#8a8a8a', 'efficiency-ec-dmc-first');
  dots(g, fHsCycles, fHsCap, sx, sy, 3.3, '#ee7366', 'capacity-131-hs');
  dots(g, fHsCycles, fBlueCap, sx, sy, 3.3, '#1e6bd6', 'capacity-napf6');
  dots(g, fHsCycles, fGreyCap, sx, sy, 3.3, '#848484', 'capacity-ec-dmc');
  frame(g, 99.3, 579.3, 614.3, 779);
  xAxis(g, sx, 779, fXTicks, fXMinor, 800.5);
  yAxis(g, sy, 99.3, fYTicks, fYMinor, 91);
  rAxis(g, sr, 614.3, fRTicks, fRMinor, 619.5);
  const sun = make(g, 'g', 'sun-icon', {});
  make(sun, 'circle', 'sun-rays', {cx:541.7, cy:736.7, r:14, fill:'none', stroke:'#f5b93a', 'stroke-width':2.5, 'stroke-dasharray':'2 2.5'});
  make(sun, 'circle', 'sun-disc', {cx:541.7, cy:736.7, r:10.5, fill:'#f5c518'});
  thermo(g, 547, 763, 725, '#ee1c25', '#efc9c9');
})();

/* ---------- Panel g ---------- */
(function () {
  const host = document.getElementById('radar-layer');
  const cx = 883.7, cy = 680.8, R = 86.5;
  const angle = i => -Math.PI/2 + i * 2*Math.PI/5;
  const pt = (i, f) => [cx + R*f*Math.cos(angle(i)), cy + R*f*Math.sin(angle(i))];
  const poly = vals => vals.map((v, i) => pt(i, v).map(n => n.toFixed(2)).join(',')).join(' ');
  gRings.forEach(f => make(host, 'polygon', 'radar-grid-ring', {points:poly([f,f,f,f,f]), fill:'none', stroke:'#aaa', 'stroke-width':1}));
  [0,1,2,3,4].forEach(i => {
    const e = pt(i, 1);
    make(host, 'line', 'radar-spoke', {x1:cx, y1:cy, x2:e[0], y2:e[1], stroke:'#777', 'stroke-width':1});
  });
  make(host, 'polygon', 'radar-area-131-g2', {points:poly(gG2), fill:'#9adfc0', 'fill-opacity':.2, stroke:'none'});
  make(host, 'polygon', 'radar-area-131-g3', {points:poly(gG3), fill:'#4f7fe6', 'fill-opacity':.55, stroke:'#6a86de', 'stroke-width':.7});
  make(host, 'polygon', 'radar-area-131-g4', {points:poly(gG4), fill:'#b98ae0', 'fill-opacity':.55, stroke:'#ee7a70', 'stroke-width':1});
  make(host, 'polygon', 'radar-area-131-hs', {points:poly(gHs), fill:'#f47c7c', 'fill-opacity':.3, stroke:'#ee8a8a', 'stroke-width':1});
  make(host, 'polygon', 'radar-area-131-g1', {points:poly(gG1), fill:'#e0c060', 'fill-opacity':.6, stroke:'#caa040', 'stroke-width':.7});
  make(host, 'polygon', 'radar-area-ec-dmc', {points:poly(gEc), fill:'#888', 'fill-opacity':.4, stroke:'#777', 'stroke-width':.7});
  make(host, 'polygon', 'radar-area-napf6', {points:poly(gNapf), fill:'#9cc4f0', 'fill-opacity':.4, stroke:'#1e6bd6', 'stroke-width':1});
  const markers = (vals, fill, name) => vals.forEach((v, i) => {
    const p = pt(i, v);
    make(host, 'circle', name, {cx:p[0], cy:p[1], r:1.9, fill:fill});
  });
  markers(gG4, '#a070d0', 'radar-point-131-g4');
  markers(gEc, '#777', 'radar-point-ec-dmc');
  markers(gNapf, '#1e6bd6', 'radar-point-napf6');
  markers(gHs, '#e83a3a', 'radar-point-131-hs');
})();
</script>
</body>
</html>
